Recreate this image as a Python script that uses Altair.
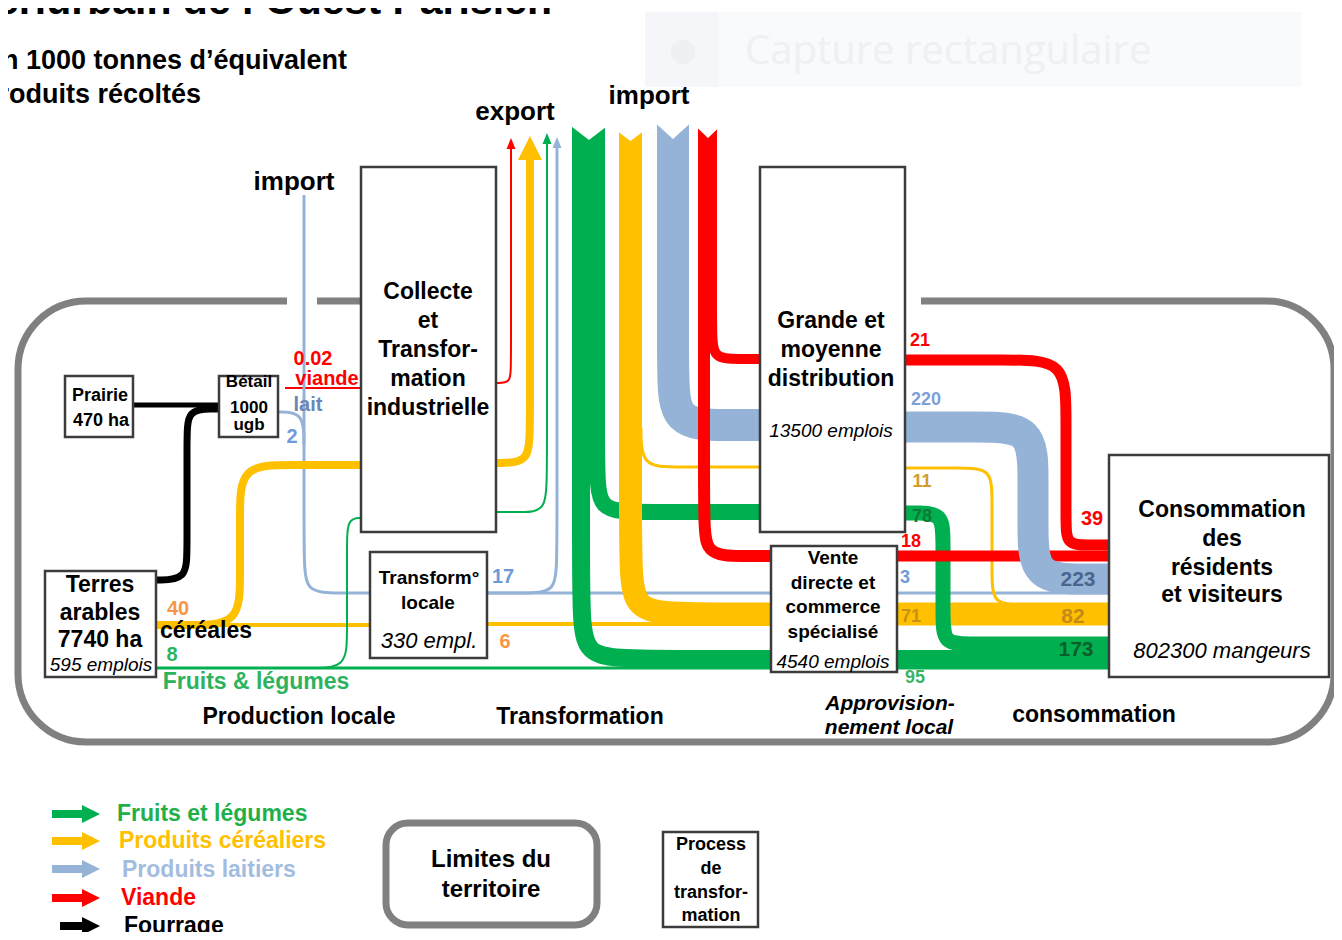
import altair as alt
import pandas as pd

W, H = 1326, 924
XS = alt.Scale(domain=[8, 1334], nice=False, zero=False)
YS = alt.Scale(domain=[8, 932], reverse=True, nice=False, zero=False)
X = alt.X("x:Q", scale=XS, axis=None)
Y = alt.Y("y:Q", scale=YS, axis=None)
FONT = "Liberation Sans, Arial, sans-serif"

GREEN = "#00b050"
YELLOW = "#ffc000"
BLUE = "#95b3d7"
RED = "#ff0000"
BLACK = "#000000"

# ---- flows: (colour, width, nodes) in drawing order ----
FLOWS_LEFT = [
    (BLACK, 5, [(133, 405), (220, 405)]),
    (BLACK, 7, [(156, 580), (187, 580), (187, 549), (187, 440), (187, 409), (214, 409), (220, 409)]),
    (RED, 2, [(285, 388), (362, 388)]),
    (BLUE, 3, [(278, 412), (304, 412), (304, 445)]),
    (BLUE, 3, [(304, 195), (304, 557), (304, 593), (341, 593), (370, 593)]),
    (BLUE, 3, [(487, 593), (522, 593), (557, 593), (557, 558), (557, 146)]),
    (BLUE, 3, [(487, 593), (1108, 593)]),
    (YELLOW, 4, [(157, 625), (370, 625)]),
    (YELLOW, 4, [(487, 624), (771, 624)]),
    (YELLOW, 8, [(157, 625), (190, 625), (240, 625), (240, 575), (240, 515), (240, 465), (290, 465), (361, 465)]),
    (YELLOW, 8, [(496, 463), (530, 463), (530, 428), (530, 158)]),
    (RED, 2, [(496, 383), (511, 383), (511, 366), (511, 146)]),
    (GREEN, 3, [(157, 668), (1108, 668)]),
    (GREEN, 2, [(310, 668), (347, 668), (347, 633), (347, 548), (347, 518), (362, 518)]),
    (GREEN, 2, [(496, 512), (520, 512), (547, 512), (547, 472), (547, 143)]),
    (YELLOW, 3, [(641, 428), (641, 467), (676, 467), (760, 467)]),
]
FLOWS_IMPORT = [
    (GREEN, 18, [(581, 127), (581, 599), (581, 659), (641, 659), (1108, 659)]),
    (GREEN, 16, [(597, 127), (597, 467), (597, 512), (642, 512), (760, 512)]),
    (YELLOW, 23, [(630.5, 132), (630.5, 554), (630.5, 614), (690, 614), (1108, 614)]),
    (BLUE, 32, [(673, 124), (673, 370), (673, 425), (728, 425), (760, 425)]),
    (RED, 12, [(704, 128), (704, 516), (704, 556), (744, 556), (771, 556)]),
    (RED, 10, [(712, 128), (712, 330), (712, 359), (740, 359), (760, 359)]),
]
FLOWS_RIGHT = [
    (GREEN, 15, [(905, 513), (915, 513), (943, 513), (943, 541), (943, 616), (943, 644), (971, 644), (1108, 644)]),
    (YELLOW, 3, [(905, 468), (960, 468), (992, 468), (992, 500), (992, 573), (992, 605), (1024, 605), (1108, 605)]),
    (RED, 11, [(896, 556), (1108, 556)]),
    (BLUE, 31, [(905, 427), (980, 427), (1033, 427), (1033, 480), (1033, 526), (1033, 579), (1086, 579), (1108, 579)]),
    (RED, 11, [(905, 360), (1010, 360), (1066, 360), (1066, 416), (1066, 522), (1066, 545), (1089, 545), (1108, 545)]),
]

# export arrow heads: (x tip, y tip, width, height, colour)
EXPORT_HEADS = [
    (511, 138, 9, 11, RED),
    (530, 136, 24, 24, YELLOW),
    (547, 133, 9, 11, GREEN),
    (557, 137, 9, 11, BLUE),
]
# import tails (notches): (x centre, y top, width, depth)
IMPORT_NOTCHES = [
    (589, 127, 34, 13),
    (630.5, 132, 24, 9),
    (673, 124, 33, 15),
    (708, 128, 21, 10),
]

# boxes: (x, x2, y, y2)
BOXES = [
    (65, 133, 376, 437),
    (219, 278, 376, 437),
    (45, 156, 571, 677),
    (361, 496, 167, 532),
    (370, 487, 552, 658),
    (760, 905, 167, 532),
    (771, 897, 546, 672),
    (1109, 1329, 455, 677),
    (663, 758, 832, 927),
]
BOUNDARY = [(18, 1334, 301, 742)]
BOUNDARY_GAPS = [(287, 317, 293, 309), (496, 921, 293, 309)]
LEGEND_LIMIT = [(386, 597, 823, 925)]
CAPTURE = [(645, 1302, 12, 87)]
CAPTURE_ICON = [(645, 718, 12, 87)]

# legend arrows: (x start, y, colour)
LEGEND_ARROWS = [
    (52, 814, GREEN),
    (52, 841, YELLOW),
    (52, 869, BLUE),
    (52, 898, RED),
    (60, 926, BLACK),
]

# texts: (text, x, y, size, colour)
BOLD_CENTER = [
    ("Collecte", 428, 292, 23, BLACK), ("et", 428, 321, 23, BLACK),
    ("Transfor-", 428, 350, 23, BLACK), ("mation", 428, 379, 23, BLACK),
    ("industrielle", 428, 408, 23, BLACK),
    ("Grande et", 831, 321, 23, BLACK), ("moyenne", 831, 350, 23, BLACK),
    ("distribution", 831, 379, 23, BLACK),
    ("Consommation", 1222, 510, 23, BLACK), ("des", 1222, 539, 23, BLACK),
    ("résidents", 1222, 568, 23, BLACK), ("et visiteurs", 1222, 595, 23, BLACK),
    ("Terres", 100, 585, 23, BLACK), ("arables", 100, 613, 23, BLACK),
    ("7740 ha", 100, 640, 23, BLACK),
    ("Prairie", 100, 396, 18, BLACK), ("470 ha", 101, 421, 18, BLACK),
    ("Bétail", 249, 382, 17, BLACK), ("1000", 249, 408, 17, BLACK), ("ugb", 249, 425, 17, BLACK),
    ("Transform°", 429, 578, 19, BLACK), ("locale", 428, 603, 19, BLACK),
    ("Vente", 833, 558, 19, BLACK), ("directe et", 833, 583, 19, BLACK),
    ("commerce", 833, 607, 19, BLACK), ("spécialisé", 833, 632, 19, BLACK),
    ("Production locale", 299, 717, 23, BLACK), ("Transformation", 580, 717, 23, BLACK),
    ("consommation", 1094, 715, 23, BLACK),
    ("export", 515, 112, 26, BLACK), ("import", 649, 96, 26, BLACK), ("import", 294, 182, 26, BLACK),
    ("Limites du", 491, 860, 24, BLACK), ("territoire", 491, 890, 24, BLACK),
    ("Process", 711, 845, 18, BLACK), ("de", 711, 869, 18, BLACK),
    ("transfor-", 711, 893, 18, BLACK), ("mation", 711, 916, 18, BLACK),
    ("0.02", 313, 359, 20, RED), ("viande", 327, 379, 20, RED),
    ("lait", 308, 405, 20, "#6a87b5"), ("2", 292, 437, 20, "#6f9ad8"),
    ("40", 178, 609, 20, "#f79646"), ("céréales", 206, 631, 23, BLACK),
    ("8", 172, 655, 20, "#2db35d"), ("Fruits & légumes", 256, 682, 23, "#2db35d"),
    ("17", 503, 577, 20, "#6f9ad8"), ("6", 505, 642, 20, "#f79646"),
    ("21", 920, 341, 18, RED), ("220", 926, 400, 18, "#7f9fd6"),
    ("11", 922, 482, 18, "#d39b2a"), ("78", 922, 517, 18, "#0e7a34"),
    ("18", 911, 542, 18, RED), ("3", 905, 578, 18, "#6f9ad8"),
    ("71", 911, 617, 18, "#c7901a"), ("95", 915, 678, 18, "#3cb464"),
    ("39", 1092, 519, 20, RED), ("223", 1078, 580, 21, "#4a6690"),
    ("82", 1073, 617, 21, "#c58a18"), ("173", 1076, 650, 21, "#0b5e2a"),
]
ITALIC_CENTER = [
    ("13500 emplois", 831, 431, 19, BLACK),
    ("4540 emplois", 833, 662, 19, BLACK),
    ("802300 mangeurs", 1222, 651, 22, BLACK),
    ("595 emplois", 101, 665, 19, BLACK),
    ("330 empl.", 429, 641, 22, BLACK),
]
BOLDITALIC_CENTER = [
    ("Approvision-", 890, 704, 21, BLACK),
    ("nement local", 889, 728, 21, BLACK),
]
BOLD_LEFT = [
    ("Fruits et légumes", 117, 814, 23, "#1fb04a"),
    ("Produits céréaliers", 119, 841, 23, YELLOW),
    ("Produits laitiers", 122, 870, 23, "#a3bddf"),
    ("Viande", 121, 898, 23, RED),
    ("Fourrage", 124, 926, 23, BLACK),
]
BOLD_RIGHT = [
    ("En 1000 tonnes d’équivalent", 347, 61, 27, BLACK),
    ("produits récoltés", 201, 95, 27, BLACK),
]
TITLE = [("Périurbain de l’Ouest Parisien", 552, 14, 41, BLACK)]
CAPTURE_TEXT = [("Capture rectangulaire", 745, 52, 40, "#eef0f3")]


def flow_layer(color, width, pts):
    df = pd.DataFrame({"x": [p[0] for p in pts], "y": [p[1] for p in pts], "i": list(range(len(pts)))})
    return alt.Chart(df).mark_line(
        color=color, strokeWidth=width, interpolate="basis", strokeCap="butt", strokeJoin="round"
    ).encode(x=X, y=Y, order="i:Q")


def rect_layer(rows, fill, stroke, sw, radius=0, fill_opacity=1.0):
    df = pd.DataFrame(rows, columns=["x", "x2", "y", "y2"])
    return alt.Chart(df).mark_rect(
        fill=fill, fillOpacity=fill_opacity, stroke=stroke, strokeWidth=sw, cornerRadius=radius
    ).encode(x=X, x2="x2:Q", y=Y, y2="y2:Q")


def shape_layer(x, y, shape, size, color):
    df = pd.DataFrame({"x": [x], "y": [y]})
    return alt.Chart(df).mark_point(
        shape=shape, size=size, filled=True, color=color, opacity=1, strokeWidth=0
    ).encode(x=X, y=Y)


def text_layer(rows, weight, style, align="center", baseline="middle", font=FONT):
    df = pd.DataFrame(rows, columns=["t", "x", "y", "s", "c"])
    return alt.Chart(df).mark_text(
        font=font, fontWeight=weight, fontStyle=style, align=align, baseline=baseline
    ).encode(
        x=X, y=Y, text="t:N",
        size=alt.Size("s:Q", scale=None),
        color=alt.Color("c:N", scale=None),
    )


layers = []
# screenshot-tool overlay (very faint)
layers.append(rect_layer(CAPTURE, "#f9fafc", "#f9fafc", 0))
layers.append(rect_layer(CAPTURE_ICON, "#f4f6f9", "#f4f6f9", 0))
layers.append(shape_layer(683, 52, "circle", 600, "#eef0f2"))
layers.append(text_layer(CAPTURE_TEXT, "normal", "normal", align="left", font="Open Sans, sans-serif"))

# territory boundary
layers.append(rect_layer(BOUNDARY, "white", "#808080", 7, radius=68, fill_opacity=0))
layers.append(rect_layer(BOUNDARY_GAPS, "white", "white", 0))

for c, w, pts in FLOWS_LEFT + FLOWS_IMPORT + FLOWS_RIGHT:
    layers.append(flow_layer(c, w, pts))

for x, ytip, w, h, c in EXPORT_HEADS:
    hw = round(w / h, 3)
    layers.append(shape_layer(x, ytip + h / 2, f"M0,-1L{hw},1L-{hw},1Z", h * h, c))

for x, ytop, w, d in IMPORT_NOTCHES:
    a = round(d / w, 3)
    layers.append(shape_layer(x, ytop + d / 2, f"M-1.05,-{a + 0.05}L1.05,-{a + 0.05}L0,{a}Z", w * w, "white"))

layers.append(rect_layer(BOXES, "white", "#3c3c3c", 2.5))
layers.append(rect_layer(LEGEND_LIMIT, "white", "#808080", 7, radius=22))

for x0, y, c in LEGEND_ARROWS:
    layers.append(flow_layer(c, 8, [(x0, y), (84, y)]))
    layers.append(shape_layer(91, y, "M1,0L-1,-1L-1,1Z", 324, c))

layers.append(text_layer(TITLE, "bold", "normal", align="right", baseline="alphabetic"))
layers.append(text_layer(BOLD_CENTER, "bold", "normal"))
layers.append(text_layer(ITALIC_CENTER, "normal", "italic"))
layers.append(text_layer(BOLDITALIC_CENTER, "bold", "italic"))
layers.append(text_layer(BOLD_LEFT, "bold", "normal", align="left"))
layers.append(text_layer(BOLD_RIGHT, "bold", "normal", align="right"))

chart = alt.layer(*layers).properties(
    width=W, height=H, autosize=alt.AutoSizeParams(type="none"), padding=0, background="white"
).configure_view(stroke=None)

chart.save("out.html", embed_options={"renderer": "svg", "actions": False})
